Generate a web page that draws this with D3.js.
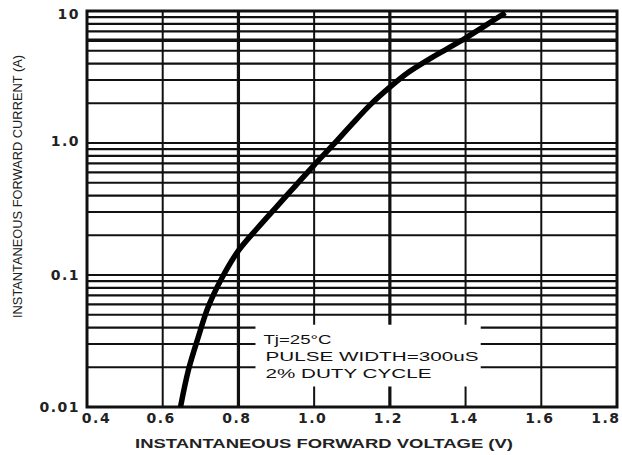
<!DOCTYPE html>
<html>
<head>
<meta charset="utf-8">
<script src="https://cdn.jsdelivr.net/npm/d3@7/dist/d3.min.js"></script>
<style>
  html, body { margin: 0; padding: 0; background: #fff; }
  svg { display: block; }
</style>
</head>
<body>
<svg id="chart" width="622" height="455"></svg>
<script>
// ---- data ----
const xTicks = [0.4, 0.6, 0.8, 1.0, 1.2, 1.4, 1.6, 1.8];
const xTickLabels = ["0.4", "0.6", "0.8", "1.0", "1.2", "1.4", "1.6", "1.8"];
const yTicks = [0.01, 0.1, 1, 10];
const yTickLabels = ["0.01", "0.1", "1.0", "10"];
const voltage = [0.647, 0.668, 0.694, 0.720, 0.756, 0.800, 0.850, 0.900, 0.950, 1.000, 1.050, 1.100, 1.150, 1.200, 1.250, 1.300, 1.350, 1.400, 1.450, 1.505];
const current = [0.0100, 0.0191, 0.0339, 0.0572, 0.0945, 0.153, 0.226, 0.327, 0.472, 0.681, 0.966, 1.39, 1.97, 2.65, 3.45, 4.25, 5.15, 6.24, 7.69, 9.70];
const noteLines = ["Tj=25\u00B0C", "PULSE WIDTH=300uS", "2% DUTY CYCLE"];
const xTitle = "INSTANTANEOUS FORWARD VOLTAGE (V)";
const yTitle = "INSTANTANEOUS FORWARD CURRENT (A)";

// ---- layout ----
const svg = d3.select("#chart");
const pL = 87, pR = 617, pT = 11, pB = 407;
const x = d3.scaleLinear().domain([0.4, 1.8]).range([pL, pR]);
const y = d3.scaleLog().domain([0.01, 10]).range([pB, pT]);
const SANS = "'Liberation Sans', Arial, sans-serif";
const TICKF = "'DejaVu Sans', 'Liberation Sans', sans-serif";

// horizontal grid: 2..9 per decade plus decades
const minor = [];
for (const d of [0.01, 0.1, 1]) for (let k = 2; k <= 9; k++) minor.push(+(d * k).toPrecision(3));
const g = svg.append("g");
g.selectAll("line.h").data(minor.concat([0.1, 1])).join("line")
  .attr("x1", pL).attr("x2", pR)
  .attr("y1", d => y(d)).attr("y2", d => y(d))
  .attr("stroke", "#111").attr("stroke-width", d => (d === 6 ? 3.5 : 2.2));

// vertical grid
const thick = [0.8, 1.2];
g.selectAll("line.v").data(xTicks.slice(1, -1)).join("line")
  .attr("y1", pT).attr("y2", pB)
  .attr("x1", d => x(d)).attr("x2", d => x(d))
  .attr("stroke", "#111").attr("stroke-width", d => thick.includes(d) ? 3.2 : 2);

// note box (white, covers grid)
const boxX0 = x(0.845), boxX1 = x(1.44);
svg.append("rect").attr("x", boxX0).attr("y", y(0.042)).attr("width", boxX1 - boxX0)
  .attr("height", y(0.0143) - y(0.042)).attr("fill", "#fff");
const noteLen = [68, 213, 166];
svg.append("g").selectAll("text").data(noteLines).join("text")
  .attr("x", (d, i) => boxX0 + (i === 0 ? 8 : 10))
  .attr("y", (d, i) => 344 + i * 17)
  .style("font-family", SANS).style("font-size", "13px").style("fill", "#111")
  .attr("textLength", (d, i) => noteLen[i])
  .attr("lengthAdjust", "spacingAndGlyphs")
  .text(d => d);

// frame
svg.append("rect").attr("x", pL).attr("y", pT).attr("width", pR - pL).attr("height", pB - pT)
  .attr("fill", "none").attr("stroke", "#111").attr("stroke-width", 3);

// curve
const pts = voltage.map((v, i) => [v, current[i]]);
svg.append("path").datum(pts)
  .attr("d", d3.line().x(d => x(d[0])).y(d => y(d[1])).curve(d3.curveCatmullRom.alpha(0.5)))
  .attr("fill", "none").attr("stroke", "#000").attr("stroke-width", 5.5).attr("stroke-linecap", "butt");

// x axis labels
const xAxis = d3.axisBottom(x).tickValues(xTicks).tickSize(0).tickPadding(6)
  .tickFormat((d, i) => xTickLabels[i]);
const xa = svg.append("g").attr("transform", `translate(0,${pB})`).call(xAxis);
xa.select(".domain").remove();
const lastI = xTicks.length - 1;
xa.selectAll("text")
  .style("font-family", TICKF).style("font-size", "14px").style("font-weight", "bold")
  .style("letter-spacing", "1.5px").style("fill", "#222")
  .attr("text-anchor", (d, i) => i === lastI ? "end" : "middle")
  .attr("dx", (d, i) => i === 0 ? 9 : (i === lastI ? 3 : -2));

// y axis labels
const yAxis = d3.axisLeft(y).tickValues(yTicks).tickSize(0).tickPadding(7)
  .tickFormat((d, i) => yTickLabels[i]);
const ya = svg.append("g").attr("transform", `translate(${pL},0)`).call(yAxis);
ya.select(".domain").remove();
ya.selectAll("text")
  .style("font-family", TICKF).style("font-size", "14px").style("font-weight", "bold")
  .style("letter-spacing", "1.5px").style("fill", "#222")
  .attr("dy", (d) => d === 10 ? "0.5em" : (d === 1 ? "0.2em" : "0.32em"));

// axis titles
svg.append("text").attr("x", 135).attr("y", 448)
  .style("font-family", SANS).style("font-size", "12.5px").style("font-weight", "bold").style("fill", "#222")
  .attr("textLength", 378).attr("lengthAdjust", "spacingAndGlyphs").text(xTitle);
svg.append("text").attr("transform", "translate(22,318) rotate(-90)")
  .style("font-family", SANS).style("font-size", "13px").style("fill", "#222")
  .attr("textLength", 263).attr("lengthAdjust", "spacingAndGlyphs").text(yTitle);
</script>
</body>
</html>
